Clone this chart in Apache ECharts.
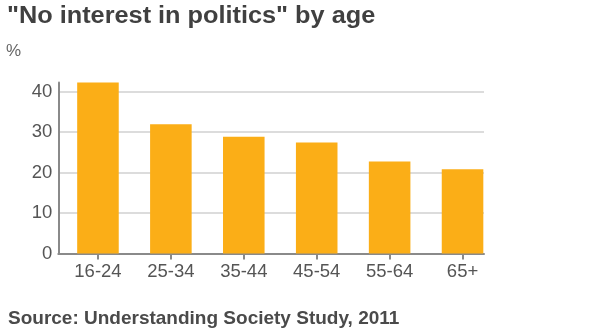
<!DOCTYPE html>
<html>
<head>
<meta charset="utf-8">
<style>
  html, body { margin: 0; padding: 0; background: #fff; }
  #chart { width: 590px; height: 331px; }
</style>
<script src="https://cdn.jsdelivr.net/npm/echarts@6/dist/echarts.min.js"></script>
</head>
<body>
<div id="chart"></div>
<script>
// Share of people saying they have no interest in politics, by age band
const ageGroups = ['16-24', '25-34', '35-44', '45-54', '55-64', '65+'];
const noInterestPct = [42.4, 31.9, 28.8, 27.4, 22.7, 20.8];
const yTicks = [0, 10, 20, 30, 40];

const FONT = '"Liberation Sans", Arial, sans-serif';
const BAR_COLOR = '#FBAE17';
const TEXT_COLOR = '#555555';
const AXIS_COLOR = '#8a8a8a';
const GRID_COLOR = '#dcdcdc';

const yMax = 42.2;
const plotTop = 82.6;
const plotBottom = 77.5;

const chart = echarts.init(document.getElementById('chart'), null, { renderer: 'canvas' });

chart.setOption({
  animation: false,
  backgroundColor: '#ffffff',
  title: [
    {
      text: '%',
      left: 1, top: 38,
      textStyle: { fontFamily: FONT, fontSize: 17, fontWeight: 'normal', color: '#666666' }
    },
    {
      text: 'Source: Understanding Society Study, 2011',
      left: 3, top: 304,
      textStyle: { fontFamily: FONT, fontSize: 19, fontWeight: 'bold', color: '#4a4a4a' }
    }
  ],
  graphic: [
    {
      // headline, slightly widened
      type: 'text',
      left: 7, top: 5,
      scaleX: 1.076, originX: 0, originY: 0,
      style: {
        text: '"No interest in politics" by age',
        font: 'bold 23.5px "Liberation Sans", Arial, sans-serif',
        fill: '#404040'
      }
    }
  ],
  grid: [
    // frame: value axis, gridlines and baseline
    { left: 58.3, width: 425.7, top: plotTop, bottom: plotBottom, containLabel: false },
    // bars
    { left: 61.5, width: 437.5, top: plotTop, bottom: plotBottom, containLabel: false }
  ],
  xAxis: [
    {
      gridIndex: 0, type: 'value', min: 0, max: 1,
      axisLine: { show: true, lineStyle: { color: AXIS_COLOR, width: 2 } },
      axisTick: { show: false }, axisLabel: { show: false }, splitLine: { show: false }
    },
    {
      gridIndex: 1, type: 'category', data: ageGroups,
      axisLine: { show: false },
      axisTick: { show: true, alignWithLabel: true, length: 6, lineStyle: { color: AXIS_COLOR, width: 2 } },
      axisLabel: { fontFamily: FONT, fontSize: 18.5, color: TEXT_COLOR, margin: 9 }
    }
  ],
  yAxis: [
    {
      gridIndex: 0, type: 'value', min: 0, max: yMax, interval: 10,
      axisLine: { show: true, lineStyle: { color: AXIS_COLOR, width: 2 } },
      axisTick: { show: false },
      axisLabel: {
        fontFamily: FONT, fontSize: 18.5, color: TEXT_COLOR, margin: 6,
        showMaxLabel: false,
        formatter: v => (yTicks.indexOf(v) >= 0 ? String(v) : '')
      },
      splitLine: { show: true, showMinLine: false, showMaxLine: false, lineStyle: { color: GRID_COLOR, width: 2 } }
    },
    {
      gridIndex: 1, type: 'value', min: 0, max: yMax, show: false
    }
  ],
  series: [
    {
      type: 'bar',
      xAxisIndex: 1, yAxisIndex: 1,
      data: noInterestPct,
      barCategoryGap: '43%',
      itemStyle: { color: BAR_COLOR },
      z: 3
    }
  ]
});
</script>
</body>
</html>
